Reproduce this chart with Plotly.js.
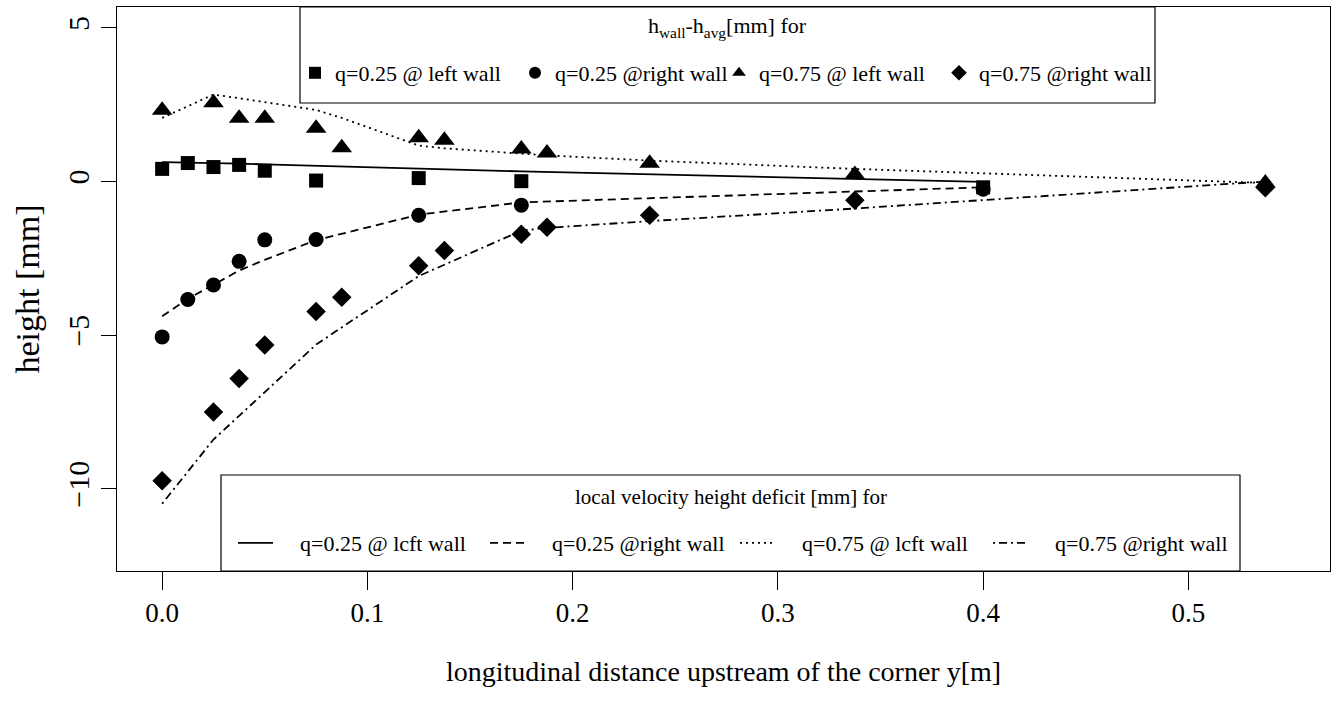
<!DOCTYPE html>
<html>
<head>
<meta charset="utf-8">
<script src="https://cdn.plot.ly/plotly-3.0.1.min.js"></script>
<style>html,body{margin:0;padding:0;background:#fff;}#chart{width:1342px;height:702px;}</style>
</head>
<body>
<div id="chart"></div>
<script>
// ---- measured points (h_wall - h_avg) ----
const xQ25 = [0, 0.0125, 0.025, 0.0375, 0.05, 0.075, 0.125, 0.175, 0.4];
const yQ25Left = [0.41, 0.60, 0.47, 0.54, 0.35, 0.03, 0.11, 0.01, -0.19];
const yQ25Right = [-5.06, -3.84, -3.37, -2.60, -1.90, -1.89, -1.10, -0.77, -0.25];

const xQ75 = [0, 0.025, 0.0375, 0.05, 0.075, 0.0875, 0.125, 0.1375, 0.175, 0.1875, 0.2375, 0.3375, 0.5375];
const yQ75Left = [2.32, 2.56, 2.06, 2.06, 1.73, 1.10, 1.42, 1.34, 1.06, 0.93, 0.59, 0.23, -0.05];
const yQ75Right = [-9.74, -7.50, -6.41, -5.32, -4.23, -3.77, -2.74, -2.25, -1.72, -1.49, -1.10, -0.61, -0.20];

// ---- local velocity height deficit (lines) ----
const yDefQ25Left = [0.63, 0.62, 0.60, 0.58, 0.56, 0.51, 0.42, 0.33, -0.01];
const yDefQ25Right = [-4.39, -3.82, -3.36, -2.90, -2.55, -1.91, -1.08, -0.68, -0.19];
const yDefQ75Left = [2.07, 2.83, 2.71, 2.58, 2.33, 2.07, 1.17, 1.08, 0.90, 0.85, 0.68, 0.41, -0.05];
const yDefQ75Right = [-10.49, -8.40, -7.63, -6.86, -5.31, -4.75, -3.08, -2.71, -1.60, -1.51, -1.29, -0.88, 0.00];

const seriesNames = ["q=0.25 @ left wall", "q=0.25 @right wall", "q=0.75 @ left wall", "q=0.75 @right wall"];
const lineNames = ["q=0.25 @ lcft wall", "q=0.25 @right wall", "q=0.75 @ lcft wall", "q=0.75 @right wall"];
const pointsTitle = "h<sub>wall</sub>-h<sub>avg</sub>[mm] for";
const linesTitle = "local velocity height deficit [mm] for";
const xTitle = "longitudinal distance upstream of the corner y[m]";
const yTitle = "height [mm]";
const xTicks = [0, 0.1, 0.2, 0.3, 0.4, 0.5];
const yTicks = [-10, -5, 0, 5];

const FONT = "Liberation Serif, Times New Roman, serif";
const BLACK = "#000000";

// page geometry (pixels)
const W = 1342, H = 702;
const M = {l: 117, r: 12, t: 7, b: 131};
const PW = W - M.l - M.r, PH = H - M.t - M.b;
const px = v => (v - M.l) / PW;          // pixel x -> paper
const py = v => (H - M.b - v) / PH;      // pixel y -> paper

// legend entry text start positions (pixels)
const topTextX = [333, 553, 757, 977];
const botTextX = [300, 552, 802, 1055];
const GAP = "\u00a0\u00a0\u00a0\u00a0";   // blank gap between line sample and label, as in the reference

const lineW = 1.8;
const dashes = ["solid", "8px,5px", "2px,4px", "2px,4px,8px,4px"];
const symbols = ["square", "circle", "triangle-up", "diamond"];
const symSizes = [14, 15, 18, 15];
const lineX = [xQ25, xQ25, xQ75, xQ75];
const lineY = [yDefQ25Left, yDefQ25Right, yDefQ75Left, yDefQ75Right];
const ptX = [xQ25, xQ25, xQ75, xQ75];
const ptY = [yQ25Left, yQ25Right, yQ75Left, yQ75Right];

const traces = [];
for (let i = 0; i < 4; i++) {
  traces.push({x: lineX[i], y: lineY[i], name: GAP + lineNames[i], mode: "lines",
    line: {color: BLACK, width: lineW, dash: dashes[i]}, legend: "legend" + (5 + i)});
}
for (let i = 0; i < 4; i++) {
  traces.push({x: ptX[i], y: ptY[i], name: seriesNames[i], mode: "markers",
    marker: {symbol: symbols[i], size: symSizes[i], color: BLACK}, legend: i === 0 ? "legend" : "legend" + (1 + i)});
}

const layout = {
  width: W, height: H,
  margin: M,
  paper_bgcolor: "#ffffff",
  plot_bgcolor: "#ffffff",
  font: {family: FONT, color: BLACK, size: 22},
  showlegend: true,
  xaxis: {
    range: [-0.022, 0.569],
    tickvals: xTicks, tickformat: ".1f",
    ticks: "outside", ticklen: 18, tickwidth: 1, tickcolor: BLACK,
    showline: true, mirror: true, linecolor: BLACK, linewidth: 1,
    showgrid: false, zeroline: false,
    tickfont: {family: FONT, size: 27, color: BLACK},
    title: {text: xTitle, font: {family: FONT, size: 28, color: BLACK}, standoff: 33},
    automargin: false
  },
  yaxis: {
    range: [-12.68, 5.68],
    tickvals: yTicks,
    ticks: "outside", ticklen: 15, tickwidth: 1, tickcolor: BLACK,
    showline: true, mirror: true, linecolor: BLACK, linewidth: 1,
    showgrid: false, zeroline: false,
    tickangle: -90,
    tickfont: {family: FONT, size: 30, color: BLACK},
    title: {text: yTitle, font: {family: FONT, size: 34, color: BLACK}, standoff: 12},
    automargin: false
  },
  shapes: [
    {type: "rect", xref: "paper", yref: "paper", x0: px(300), x1: px(1155), y0: py(103), y1: 1,
     fillcolor: "#ffffff", line: {color: BLACK, width: 1.2}, layer: "above"},
    {type: "rect", xref: "paper", yref: "paper", x0: px(221), x1: px(1240), y0: 0, y1: py(475),
     fillcolor: "#ffffff", line: {color: BLACK, width: 1.2}, layer: "above"}
  ],
  annotations: [
    {text: pointsTitle, xref: "paper", yref: "paper", x: px(727), y: py(27),
     xanchor: "center", yanchor: "middle", showarrow: false, font: {family: FONT, size: 22, color: BLACK}},
    {text: linesTitle, xref: "paper", yref: "paper", x: px(731), y: py(497),
     xanchor: "center", yanchor: "middle", showarrow: false, font: {family: FONT, size: 21, color: BLACK}}
  ]
};

// one legend per entry so each entry sits where the reference puts it
const legendKeys = ["legend", "legend2", "legend3", "legend4"];
for (let i = 0; i < 4; i++) {
  layout[legendKeys[i]] = {
    orientation: "h", x: px(topTextX[i] - 38), xanchor: "left", y: py(73), yanchor: "middle",
    bgcolor: "rgba(0,0,0,0)", borderwidth: 0, itemsizing: "constant",
    font: {family: FONT, size: 22, color: BLACK}
  };
  layout["legend" + (5 + i)] = {
    orientation: "h", x: px(botTextX[i] - 67), xanchor: "left", y: py(543), yanchor: "middle",
    bgcolor: "rgba(0,0,0,0)", borderwidth: 0, itemwidth: 35,
    font: {family: FONT, size: 22, color: BLACK}
  };
}

Plotly.newPlot("chart", traces, layout, {displayModeBar: false, staticPlot: true});
</script>
</body>
</html>
